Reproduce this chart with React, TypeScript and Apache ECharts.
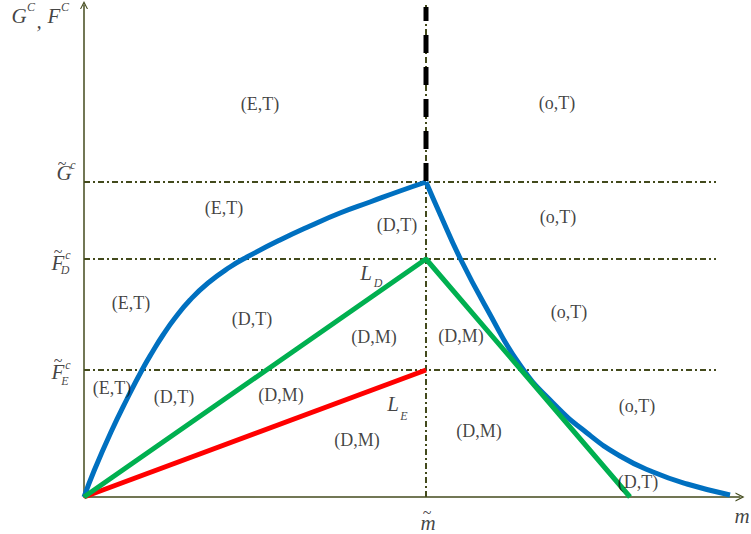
import React, { useEffect, useRef } from "react";
import * as echarts from "echarts";

// Conceptual axes (arbitrary units)
const X_MAX = 656;
const Y_MAX = 492;
const mTilde = 342;
const levelG = 315;
const levelFD = 238;
const levelFE = 127;
const levelLineEnd = 632;
const blueTop = 490;

// Blue curve (G^C): rising part and falling part
const blueLeftX = [0, 10, 27, 43, 58, 69, 79, 91, 106, 124, 146, 163, 196, 226, 256, 286, 316, 342];
const blueLeftY = [0, 26, 65, 98, 127, 146, 162, 179, 197, 214, 230, 240, 257, 271, 284, 295, 306, 315];
const blueRightX = [342, 356, 376, 403, 436, 469, 503, 536, 569, 603, 646];
const blueRightY = [315, 283, 239, 188, 132, 94, 64, 41, 25, 13, 2];

// Green L_D and red L_E
const greenX = [0, 342, 546];
const greenY = [0, 238, 0];
const redX = [0, 342];
const redY = [0, 127];

// Region labels [text, x, y]
const regionLabels: [string, number, number][] = [
  ["(E,T)", 176, 393],
  ["(o,T)", 473, 394],
  ["(E,T)", 140, 289],
  ["(D,T)", 313, 272],
  ["(o,T)", 474, 280],
  ["(E,T)", 47, 194],
  ["(D,T)", 168, 178],
  ["(D,M)", 290, 160],
  ["(D,M)", 377, 161],
  ["(o,T)", 485, 185],
  ["(E,T)", 28, 109],
  ["(D,T)", 90, 100],
  ["(D,M)", 197, 102],
  ["(D,M)", 273, 57],
  ["(D,M)", 395, 66],
  ["(o,T)", 553, 91],
  ["(D,T)", 554, 15],
];

// Math glyphs [text, x, y, kind]
type Kind = "main" | "small" | "tilde";
const mathGlyphs: [string, number, number, Kind][] = [
  // axis title G^C , F^C
  ["G", -65, 481, "main"],
  ["C", -53, 490, "small"],
  [",", -45, 476, "main"],
  ["F", -30, 481, "main"],
  ["C", -19, 490, "small"],
  // G~^c
  ["G", -20, 324, "main"],
  ["~", -22, 334, "tilde"],
  ["c", -11, 332, "small"],
  // F~_D^c
  ["F", -26, 234, "main"],
  ["~", -26, 246, "tilde"],
  ["c", -16, 242, "small"],
  ["D", -19, 227, "small"],
  // F~_E^c
  ["F", -26, 125, "main"],
  ["~", -26, 137, "tilde"],
  ["c", -16, 132, "small"],
  ["E", -19, 116, "small"],
  // m~ and m
  ["m", 344, -26, "main"],
  ["~", 343, -15, "tilde"],
  ["m", 658, -19, "main"],
  // L_D, L_E
  ["L", 282, 224, "main"],
  ["D", 294, 214, "small"],
  ["L", 309, 93, "main"],
  ["E", 320, 81, "small"],
];

const FONT = "'Liberation Serif', 'DejaVu Serif', serif";
const AXIS_COLOR = "#434a1c";
const DASH_DOT = [6, 3, 2, 3];

const zip = (xs: number[], ys: number[]) => xs.map((x, i) => [x, ys[i]]);

export default function App() {
  const ref = useRef<HTMLDivElement>(null);
  useEffect(() => {
    if (!ref.current) return;
    const chart = echarts.init(ref.current, undefined, { renderer: "svg" });

    const guide = (data: number[][], name: string) => ({
      type: "line",
      name,
      data,
      symbol: "none",
      silent: true,
      lineStyle: { color: AXIS_COLOR, width: 2, type: DASH_DOT },
      z: 1,
    });

    const curve = (data: number[][], color: string, name: string, smooth: any, z: number) => ({
      type: "line",
      name,
      data,
      symbol: "none",
      smooth,
      silent: true,
      lineStyle: { color, width: 5 },
      z,
    });

    const labelData = [
      ...regionLabels.map(([t, x, y]) => ({
        value: [x, y],
        label: { formatter: t, fontSize: 18, fontStyle: "normal" },
      })),
      ...mathGlyphs.map(([t, x, y, k]) => ({
        value: [x, y],
        label: {
          formatter: t,
          fontSize: k === "main" ? 21 : k === "small" ? 12 : 16,
          fontStyle: k === "tilde" ? "normal" : "italic",
        },
      })),
    ];

    const arrow = "path://M0,10 L5,0 L10,10 L8.6,10 L5,3 L1.4,10 Z";

    chart.setOption({
      animation: false,
      backgroundColor: "#ffffff",
      grid: { left: 84, right: 11, top: 5, bottom: 37, containLabel: false },
      xAxis: {
        type: "value",
        min: 0,
        max: X_MAX,
        splitLine: { show: false },
        axisTick: { show: false },
        axisLabel: { show: false },
        axisLine: {
          show: true,
          lineStyle: { color: AXIS_COLOR, width: 1.5 },
          symbol: ["none", arrow],
          symbolSize: [9, 10],
        },
      },
      yAxis: {
        type: "value",
        min: 0,
        max: Y_MAX,
        splitLine: { show: false },
        axisTick: { show: false },
        axisLabel: { show: false },
        axisLine: {
          show: true,
          lineStyle: { color: AXIS_COLOR, width: 1.5 },
          symbol: ["none", arrow],
          symbolSize: [8, 9],
        },
      },
      series: [
        guide([[0, levelG], [levelLineEnd, levelG]], "G level"),
        guide([[0, levelFD], [levelLineEnd, levelFD]], "FD level"),
        guide([[0, levelFE], [levelLineEnd, levelFE]], "FE level"),
        guide([[mTilde, 0], [mTilde, Y_MAX]], "m tilde"),
        curve(zip(blueLeftX, blueLeftY), "#0070c0", "G left", 0.5, 3),
        curve(zip(blueRightX, blueRightY), "#0070c0", "G right", 0.5, 3),
        curve(zip(redX, redY), "#ff0000", "L_E", false, 4),
        curve(zip(greenX, greenY), "#00b050", "L_D", false, 5),
        {
          type: "line",
          name: "threshold",
          data: [[mTilde, levelG + 1], [mTilde, blueTop]],
          symbol: "none",
          silent: true,
          lineStyle: { color: "#000000", width: 5, type: [18, 14] },
          z: 6,
        },
        {
          type: "scatter",
          name: "labels",
          data: labelData,
          symbolSize: 1,
          itemStyle: { color: "transparent" },
          clip: false,
          silent: true,
          emphasis: { disabled: true },
          label: {
            show: true,
            position: "inside",
            align: "center",
            verticalAlign: "middle",
            color: "#111111",
            fontFamily: FONT,
          },
          z: 10,
        },
      ],
    });
    return () => chart.dispose();
  }, []);
  return (
    <div
      ref={ref}
      style={{ position: "fixed", left: 0, top: 0, width: 751, height: 534, background: "#fff" }}
    />
  );
}
